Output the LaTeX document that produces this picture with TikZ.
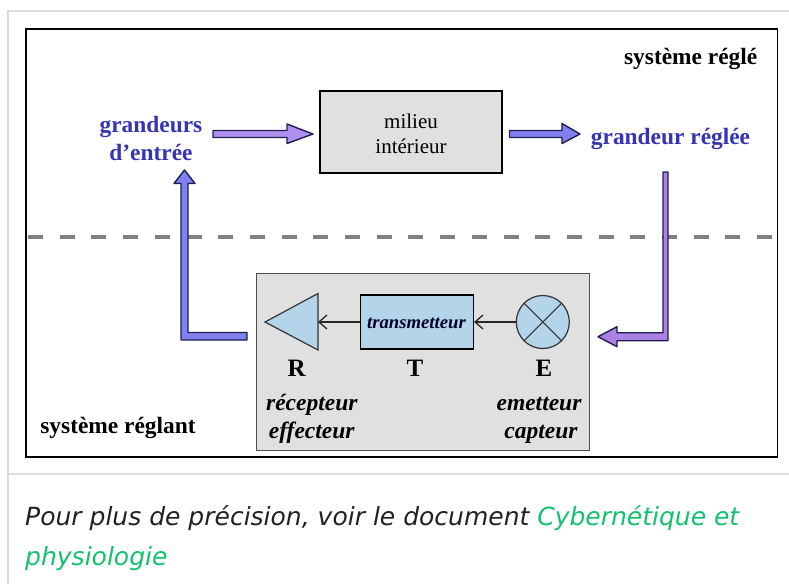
\documentclass[tikz,border=0pt]{standalone}
\usepackage{fontspec}
\setmainfont{Liberation Serif}
\newfontfamily\capfont{DejaVu Sans}
\usetikzlibrary{arrows.meta}
\definecolor{framegray}{HTML}{DCDCDC}
\definecolor{dashgray}{HTML}{808080}
\definecolor{boxgray}{HTML}{E0E0E0}
\definecolor{lightblue}{HTML}{B4D4EA}
\definecolor{labelblue}{HTML}{3434B4}
\definecolor{lavender}{HTML}{B090EE}
\definecolor{bluev}{HTML}{8080F0}
\definecolor{outl}{HTML}{1E1E50}
\definecolor{capgreen}{RGB}{20,194,110}
\definecolor{captext}{HTML}{202122}
\tikzset{
  x=1pt, y={(0pt,-1pt)},
  lbl/.style={font=\fontsize{23.4}{28}\selectfont\bfseries, inner sep=0pt, anchor=base},
  bluelbl/.style={lbl, text=labelblue},
  letter/.style={font=\fontsize{25}{30}\selectfont\bfseries, inner sep=0pt, anchor=base},
  role/.style={font=\fontsize{23.5}{28}\selectfont\bfseries\itshape, inner sep=0pt, anchor=base},
  fatarrow/.style={draw=outl, line width=1.4pt, line join=round},
  thinconn/.style={draw=black!85, line width=1.3pt, -{Straight Barb[length=8pt,width=14pt,line width=1.3pt]}},
  capt/.style={font=\capfont\itshape\fontsize{25}{40}\selectfont, inner sep=0pt, anchor=base west, text=captext},
}
\begin{document}
\begin{tikzpicture}
\useasboundingbox (0,0) rectangle (789,584);
% wiki thumbnail frame
\draw[framegray, line width=2pt] (789,11) -- (7.5,11) -- (7.5,584);
\draw[framegray, line width=2pt] (7.5,473.5) -- (789,473.5);
% black frame
\draw[black, line width=1.5pt] (26,29) rectangle (777.5,457);
% dashed separator
\draw[dashgray, line width=4pt, dash pattern=on 15pt off 16.7pt] (28,236.7) -- (777,236.7);

% upper labels
\node[lbl] (sr) at (690.7,64) {système réglé};
\node[bluelbl] (ge1) at (151,132) {grandeurs};
\node[bluelbl] (ge2) at (151,160) {d'entrée};
\node[bluelbl] (gr) at (670.5,144) {grandeur réglée};
\node[lbl] (srt) at (118,433) {système réglant};

% milieu interieur
\node[draw=black, fill=boxgray, line width=1.5pt, minimum width=182pt, minimum height=82pt, inner sep=0pt] (mil) at (411,132) {};
\node[font=\fontsize{21}{25}\selectfont, inner sep=0pt, anchor=base] (m1) at (411,128) {milieu};
\node[font=\fontsize{21}{25}\selectfont, inner sep=0pt, anchor=base] (m2) at (411,153) {intérieur};

% fat arrows
\draw[fatarrow, fill=lavender] (213,130.5) -- (287,130.5) -- (287,124) -- (313,134) -- (287,143.5) -- (287,137.5) -- (213,137.5) -- cycle;
\draw[fatarrow, fill=bluev] (509.5,130.5) -- (562,130.5) -- (562,123.5) -- (580,134) -- (562,143.5) -- (562,137.5) -- (509.5,137.5) -- cycle;
\draw[fatarrow, fill=bluev] (181,183.5) -- (174,183.5) -- (184.5,170) -- (195,183.5) -- (188,183.5) -- (188,332.5) -- (247,332.5) -- (247,340) -- (181,340) -- cycle;
\draw[fatarrow, fill=lavender!90!violet] (663,172) -- (668,172) -- (668,340.7) -- (617,340.7) -- (617,346.7) -- (598,336.7) -- (617,326.7) -- (617,332.7) -- (663,332.7) -- cycle;

% regulating system box
\node[draw=black!70, fill=boxgray, line width=1.5pt, minimum width=332.6pt, minimum height=177.4pt, inner sep=0pt] (sys) at (423,362) {};
% receptor triangle
\draw[draw=black!80, fill=lightblue, line width=1.2pt, line join=miter] (265,322) -- (318,293.5) -- (318,350) -- cycle;
\coordinate (Rin) at (318,322);
% transmitter
\node[draw=black, fill=lightblue, line width=1.5pt, minimum width=112.6pt, minimum height=54pt, inner sep=0pt] (T) at (417,322) {};
\node[font=\fontsize{18.7}{22}\selectfont\bfseries\itshape, text=black!85!blue, inner sep=0pt, anchor=base] (tl) at (416.5,328.3) {transmetteur};
% emitter circle
\node[draw=black!80, fill=lightblue, circle, line width=1.2pt, minimum size=53pt, inner sep=0pt] (E) at (542.8,322) {};
\draw[black!80, line width=1.1pt] (E.north west) -- (E.south east);
\draw[black!80, line width=1.1pt] (E.north east) -- (E.south west);
% thin connectors
\draw[thinconn] (E.west) -- (T.east);
\draw[thinconn] (T.west) -- (Rin);

% letters and roles
\node[letter] (R) at (296.7,376.7) {R};
\node[letter] (TT) at (415,376.7) {T};
\node[letter] (EE) at (544,376.7) {E};
\node[role] (rc) at (311.8,410.7) {récepteur};
\node[role] (ef) at (311.7,438) {effecteur};
\node[role] (em) at (539,410.7) {emetteur};
\node[role] (ca) at (541,438) {capteur};

% caption
\node[capt] (c1) at (25,525) {Pour plus de précision, voir le document \textcolor{capgreen}{Cybernétique et}};
\node[capt, text=capgreen] (c2) at (25,565) {physiologie};
\end{tikzpicture}
\end{document}
